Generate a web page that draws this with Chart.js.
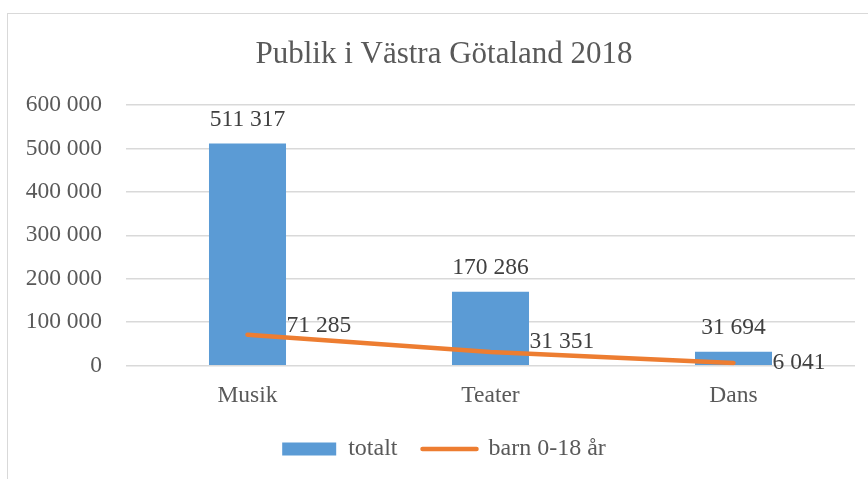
<!DOCTYPE html>
<html>
<head>
<meta charset="utf-8">
<script src="https://cdn.jsdelivr.net/npm/chart.js@4/dist/chart.umd.min.js"></script>
<style>
  html, body { margin: 0; padding: 0; background: #ffffff; overflow: hidden; }
  #frame { position: absolute; left: 7px; top: 13px; width: 920px; height: 520px; border: 1.5px solid #d9d9d9; box-sizing: border-box; }
  #wrap { position: absolute; left: 0; top: 0; width: 888px; height: 479px; }
</style>
</head>
<body>
<div id="frame"></div>
<div id="wrap"><canvas id="c" width="888" height="479"></canvas></div>
<script>
const categories = ['Musik', 'Teater', 'Dans'];
const totalt = [511317, 170286, 31694];
const barn = [71285, 31351, 6041];
const seriesNames = ['totalt', 'barn 0-18 år'];
const titleText = 'Publik i Västra Götaland 2018';
const yMin = 0, yMax = 600000, yStep = 100000;

const FONT = "'Liberation Serif', 'Times New Roman', serif";
const fmt = n => String(n).replace(/\B(?=(\d{3})+(?!\d))/g, ' ');
const lineLabelDy = [-9, -10, 0];

const labelPlugin = {
  id: 'valueLabels',
  afterDatasetsDraw(chart) {
    const ctx = chart.ctx;
    ctx.save();
    ctx.font = "23.5px " + FONT;
    ctx.fillStyle = '#404040';
    const barMeta = chart.getDatasetMeta(0);
    ctx.textAlign = 'center';
    ctx.textBaseline = 'alphabetic';
    barMeta.data.forEach((el, i) => {
      ctx.fillText(fmt(chart.data.datasets[0].data[i]), el.x, el.y - 18);
    });
    const lineMeta = chart.getDatasetMeta(1);
    ctx.textAlign = 'left';
    ctx.textBaseline = 'middle';
    lineMeta.data.forEach((el, i) => {
      ctx.fillText(fmt(chart.data.datasets[1].data[i]), el.x + 39, el.y + lineLabelDy[i]);
    });
    ctx.restore();
  }
};

new Chart(document.getElementById('c'), {
  type: 'bar',
  data: {
    labels: categories,
    datasets: [
      {
        type: 'bar',
        label: seriesNames[0],
        data: totalt,
        backgroundColor: '#5B9BD5',
        borderWidth: 0,
        categoryPercentage: 1,
        barPercentage: 0.317,
        order: 1
      },
      {
        type: 'line',
        label: seriesNames[1],
        data: barn,
        borderColor: '#ED7D31',
        backgroundColor: '#ED7D31',
        borderWidth: 4.5,
        borderCapStyle: 'round',
        pointRadius: 0,
        pointHoverRadius: 0,
        tension: 0,
        order: 0
      }
    ]
  },
  options: {
    responsive: false,
    animation: false,
    layout: { padding: { left: 0, right: 0, top: 0, bottom: 8 } },
    scales: {
      x: {
        grid: { display: false },
        border: { display: false },
        ticks: { font: { family: FONT, size: 23.5 }, color: '#595959', padding: 8 },
        afterFit(scale) { scale.height = 46.4; }
      },
      y: {
        min: yMin,
        max: yMax,
        border: { display: false },
        grid: { color: '#d9d9d9', lineWidth: 1.4, drawTicks: false },
        ticks: {
          stepSize: yStep,
          font: { family: FONT, size: 23.5 },
          color: '#595959',
          padding: 24,
          callback: v => fmt(v)
        },
        afterFit(scale) { scale.width = 126; }
      },
      yRight: {
        type: 'linear',
        position: 'right',
        display: true,
        grid: { display: false, drawTicks: false },
        border: { display: false },
        ticks: { display: false },
        afterFit(scale) { scale.width = 33; }
      }
    },
    plugins: {
      title: {
        display: true,
        text: titleText,
        font: { family: FONT, size: 31, weight: 'normal' },
        color: '#595959',
        padding: { top: 36, bottom: 31.8 }
      },
      legend: {
        position: 'bottom',
        labels: {
          font: { family: FONT, size: 24 },
          color: '#595959',
          usePointStyle: true,
          pointStyleWidth: 54,
          boxWidth: 54,
          boxHeight: 13,
          padding: 25,
          sort: (a, b) => a.datasetIndex - b.datasetIndex,
          generateLabels(chart) {
            const items = Chart.defaults.plugins.legend.labels.generateLabels(chart);
            items.forEach(it => {
              if (it.datasetIndex === 0) {
                it.pointStyle = 'rect';
                it.fillStyle = '#5B9BD5';
                it.lineWidth = 0;
              } else {
                it.pointStyle = 'line';
                it.strokeStyle = '#ED7D31';
                it.lineWidth = 4.5;
                it.lineCap = 'round';
              }
            });
            return items;
          }
        }
      },
      tooltip: { enabled: false }
    }
  },
  plugins: [labelPlugin]
});
</script>
</body>
</html>
